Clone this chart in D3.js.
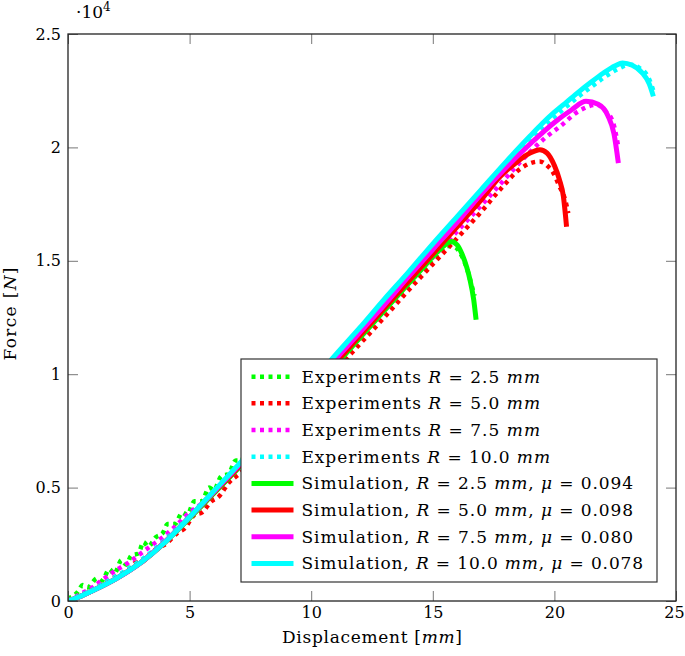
<!DOCTYPE html>
<html>
<head>
<meta charset="utf-8">
<script src="https://cdn.jsdelivr.net/npm/d3@7"></script>
<style>
  html, body { margin: 0; padding: 0; background: #fff; }
  svg { display: block; }
  text { font-family: "DejaVu Serif", "Liberation Serif", serif; fill: #000; }
</style>
</head>
<body>
<svg id="chart" width="685" height="656"></svg>
<script>
// ---------- data (force in 10^4 N, displacement in mm) ----------
const xTicks = [0, 5, 10, 15, 20, 25];
const yTicks = [0, 0.5, 1, 1.5, 2, 2.5];
const yTickLabels = ["0", "0.5", "1", "1.5", "2", "2.5"];
const seriesColors = ["#00ff00", "#ff0000", "#ff00ff", "#00ffff"];
const radii = ["2.5", "5.0", "7.5", "10.0"];
const mus = ["0.094", "0.098", "0.080", "0.078"];

const expR25 = [[0,0.01],[0.4,0.04],[0.6,0.07],[0.8,0.06],[1.2,0.10],[1.4,0.09],[1.7,0.14],[1.9,0.12],[2.2,0.18],[2.4,0.16],[2.6,0.20],[2.9,0.21],[3.1,0.26],[3.3,0.24],[3.6,0.28],[3.9,0.30],[4.1,0.34],[4.4,0.34],[4.7,0.39],[4.9,0.38],[5.2,0.44],[5.5,0.44],[5.8,0.50],[6.0,0.49],[6.3,0.55],[6.6,0.56],[6.9,0.62],[7.1,0.62],[7.4,0.67],[8,0.72],[9,0.835],[10,0.95],[11,1.06],[12,1.17],[13,1.285],[14,1.395],[14.7,1.47],[15.2,1.53],[15.6,1.565],[15.9,1.56],[16.2,1.52],[16.45,1.45],[16.6,1.39],[16.72,1.345]];
const expR50 = [[0,0],[0.5,0.02],[1,0.05],[1.5,0.08],[2,0.11],[2.5,0.14],[2.8,0.17],[3.0,0.17],[3.4,0.21],[3.8,0.24],[4.0,0.25],[4.5,0.30],[4.8,0.32],[5.2,0.38],[5.5,0.39],[5.9,0.44],[6.2,0.46],[6.6,0.52],[7.07,0.563],[8,0.667],[9,0.78],[10,0.90],[11,1.015],[11.66,1.093],[13,1.25],[14,1.37],[15,1.485],[16,1.60],[16.94,1.71],[17.76,1.813],[18.59,1.905],[19.0,1.93],[19.4,1.938],[19.7,1.92],[19.96,1.887],[20.2,1.83],[20.44,1.77],[20.57,1.71]];
const expR75 = [[0,0],[0.5,0.03],[1,0.06],[1.5,0.10],[2,0.137],[2.5,0.17],[3,0.21],[3.5,0.25],[4,0.29],[4.33,0.321],[5,0.39],[5.5,0.43],[6,0.48],[6.52,0.534],[7,0.585],[8,0.70],[9,0.815],[10,0.93],[11,1.045],[12,1.16],[13,1.28],[14,1.40],[15,1.515],[16,1.63],[17,1.745],[18,1.865],[19,1.98],[19.6,2.04],[20.23,2.092],[21.0,2.16],[21.74,2.188],[22.1,2.16],[22.42,2.107],[22.63,2.0]];
const expR100 = [[0,0],[0.5,0.025],[1,0.05],[2,0.11],[3,0.18],[4,0.27],[5,0.375],[6,0.485],[7,0.60],[8,0.715],[9,0.835],[10,0.955],[11,1.075],[12,1.195],[13,1.315],[14,1.44],[15,1.56],[16,1.68],[17,1.80],[18,1.915],[19,2.03],[19.5,2.085],[20,2.135],[20.5,2.18],[21,2.225],[21.5,2.265],[22,2.305],[22.6,2.345],[23.1,2.365],[23.5,2.35],[23.9,2.30],[24.1,2.24]];

const simR25 = [[0,0],[0.5,0.02],[1,0.045],[2,0.10],[3,0.17],[4,0.26],[5,0.365],[6,0.475],[7,0.585],[8,0.70],[9,0.81],[10,0.925],[11,1.04],[12,1.16],[13,1.28],[14,1.40],[14.6,1.47],[15.1,1.53],[15.5,1.57],[15.75,1.585],[16.0,1.57],[16.2,1.53],[16.4,1.47],[16.53,1.416],[16.68,1.33],[16.78,1.24]];
const simR50 = [[0,0],[0.5,0.02],[1,0.045],[2,0.10],[3,0.17],[4,0.262],[5,0.37],[6,0.48],[7,0.59],[8,0.705],[9,0.82],[10,0.935],[11,1.05],[12,1.17],[13,1.29],[14,1.41],[15,1.53],[16,1.65],[17,1.77],[17.76,1.87],[18.45,1.935],[19.0,1.975],[19.4,1.99],[19.7,1.975],[20.0,1.92],[20.2,1.86],[20.37,1.784],[20.5,1.65]];
const simR75 = [[0,0],[0.5,0.02],[1,0.045],[2,0.10],[3,0.17],[4,0.262],[5,0.37],[6,0.482],[7,0.595],[8,0.71],[9,0.825],[10,0.945],[11,1.065],[12,1.185],[13,1.305],[14,1.43],[15,1.55],[16,1.67],[17,1.795],[18,1.91],[19,2.015],[20,2.11],[20.7,2.165],[21.3,2.203],[21.8,2.19],[22.2,2.14],[22.45,2.06],[22.63,1.931]];
const simR100 = [[0,0],[0.5,0.02],[1,0.045],[2,0.10],[3,0.17],[4,0.26],[5,0.37],[6,0.485],[7,0.60],[8,0.72],[9,0.84],[10,0.962],[11,1.085],[12,1.205],[13,1.33],[14,1.45],[15,1.575],[16,1.695],[17,1.815],[18,1.935],[19,2.05],[19.5,2.105],[20,2.155],[20.5,2.2],[21,2.245],[21.5,2.287],[22,2.327],[22.5,2.36],[22.8,2.372],[23.2,2.362],[23.6,2.33],[23.9,2.28],[24.07,2.225]];

const experiments = [expR25, expR50, expR75, expR100];
const simulations = [simR25, simR50, simR75, simR100];

// ---------- layout ----------
const svg = d3.select("#chart");
const L = 68, R = 676, T = 34, B = 601;
const x = d3.scaleLinear().domain([0, 25]).range([L, R]);
const y = d3.scaleLinear().domain([0, 2.5]).range([B, T]);
const FS = 17, TFS = 16;

const plot = svg.append("g");
const line = d3.line().x(d => x(d[0])).y(d => y(d[1])).curve(d3.curveMonotoneX);

svg.append("defs").append("clipPath").attr("id", "clip")
  .append("rect").attr("x", L).attr("y", T).attr("width", R - L).attr("height", B - T);
const curves = plot.append("g").attr("clip-path", "url(#clip)");

experiments.forEach((s, i) => {
  curves.append("path").attr("d", line(s)).attr("fill", "none")
    .attr("stroke", seriesColors[i]).attr("stroke-width", 4.5)
    .attr("stroke-dasharray", "4,4.5");
});
simulations.forEach((s, i) => {
  curves.append("path").attr("d", line(s)).attr("fill", "none")
    .attr("stroke", seriesColors[i]).attr("stroke-width", 5)
    .attr("stroke-linejoin", "round");
});

// ---------- axes (pgfplots style box, inward ticks on all sides) ----------
const tickLen = 10;
const axB = d3.axisBottom(x).tickValues(xTicks).tickSize(-tickLen).tickPadding(6).tickFormat(d3.format("d"));
const axT = d3.axisTop(x).tickValues(xTicks).tickSize(-tickLen).tickFormat("");
const axLft = d3.axisLeft(y).tickValues(yTicks).tickSize(-tickLen).tickPadding(7).tickFormat((d, i) => yTickLabels[i]);
const axRgt = d3.axisRight(y).tickValues(yTicks).tickSize(-tickLen).tickFormat("");

function styleAxis(g) {
  g.select(".domain").remove();
  g.selectAll(".tick line").attr("stroke", "#777").attr("stroke-width", 1);
  g.selectAll(".tick text").style("font-family", '"DejaVu Serif", serif').style("font-size", TFS + "px").attr("fill", "#000");
}
const gB = svg.append("g").attr("transform", `translate(0,${B})`).call(axB).call(styleAxis);
gB.selectAll(".tick text").filter(d => d === 25).attr("dx", -2);
svg.append("g").attr("transform", `translate(0,${T})`).call(axT).call(styleAxis);
svg.append("g").attr("transform", `translate(${L},0)`).call(axLft).call(styleAxis);
svg.append("g").attr("transform", `translate(${R},0)`).call(axRgt).call(styleAxis);

svg.append("rect").attr("x", L).attr("y", T).attr("width", R - L).attr("height", B - T)
  .attr("fill", "none").attr("stroke", "#222").attr("stroke-width", 1.3);

// scale exponent
const ex = svg.append("text").attr("x", 76).attr("y", 18).style("font-size", FS + "px");
ex.append("tspan").text("·10");
ex.append("tspan").attr("dy", -7).style("font-size", "12px").text("4");

// axis labels
const xl = svg.append("text").attr("x", (L + R) / 2).attr("y", 643).attr("text-anchor", "middle")
  .attr("textLength", 180).attr("lengthAdjust", "spacing").style("font-size", FS + "px");
xl.append("tspan").text("Displacement [");
xl.append("tspan").style("font-style", "italic").text("mm");
xl.append("tspan").text("]");

const yl = svg.append("text").attr("transform", `translate(16,314) rotate(-90)`)
  .attr("text-anchor", "middle").attr("textLength", 93).attr("lengthAdjust", "spacing")
  .style("font-size", FS + "px");
yl.append("tspan").text("Force [");
yl.append("tspan").style("font-style", "italic").text("N");
yl.append("tspan").text("]");

// ---------- legend ----------
const lg = svg.append("g");
lg.append("rect").attr("x", 241).attr("y", 359).attr("width", 416).attr("height", 223)
  .attr("fill", "#fff").attr("stroke", "#333").attr("stroke-width", 1.2);
const rowH = 26.67, row0 = 376.7;
const rowWidths = [238.5, 238.5, 238.5, 248.5, 331.6, 331.6, 331.6, 341.6];
const entries = [];
radii.forEach((r, i) => entries.push({kind: "exp", i}));
radii.forEach((r, i) => entries.push({kind: "sim", i}));
entries.forEach((e, k) => {
  const cy = row0 + k * rowH;
  const ln = lg.append("line").attr("x1", 251.5).attr("x2", 293.5).attr("y1", cy).attr("y2", cy)
    .attr("stroke", seriesColors[e.i]);
  if (e.kind === "exp") ln.attr("stroke-width", 4.5).attr("stroke-dasharray", "4,4.5");
  else ln.attr("stroke-width", 5);
  const t = lg.append("text").attr("x", 301.5).attr("y", cy + 6).style("font-size", FS + "px")
    .attr("textLength", rowWidths[k]).attr("lengthAdjust", "spacing");
  if (e.kind === "exp") {
    t.append("tspan").text("Experiments ");
    t.append("tspan").style("font-style", "italic").text("R");
    t.append("tspan").text(" = " + radii[e.i] + " ");
    t.append("tspan").style("font-style", "italic").text("mm");
  } else {
    t.append("tspan").text("Simulation, ");
    t.append("tspan").style("font-style", "italic").text("R");
    t.append("tspan").text(" = " + radii[e.i] + " ");
    t.append("tspan").style("font-style", "italic").text("mm");
    t.append("tspan").text(", ");
    t.append("tspan").style("font-style", "italic").text("μ");
    t.append("tspan").text(" = " + mus[e.i]);
  }
});
</script>
</body>
</html>
